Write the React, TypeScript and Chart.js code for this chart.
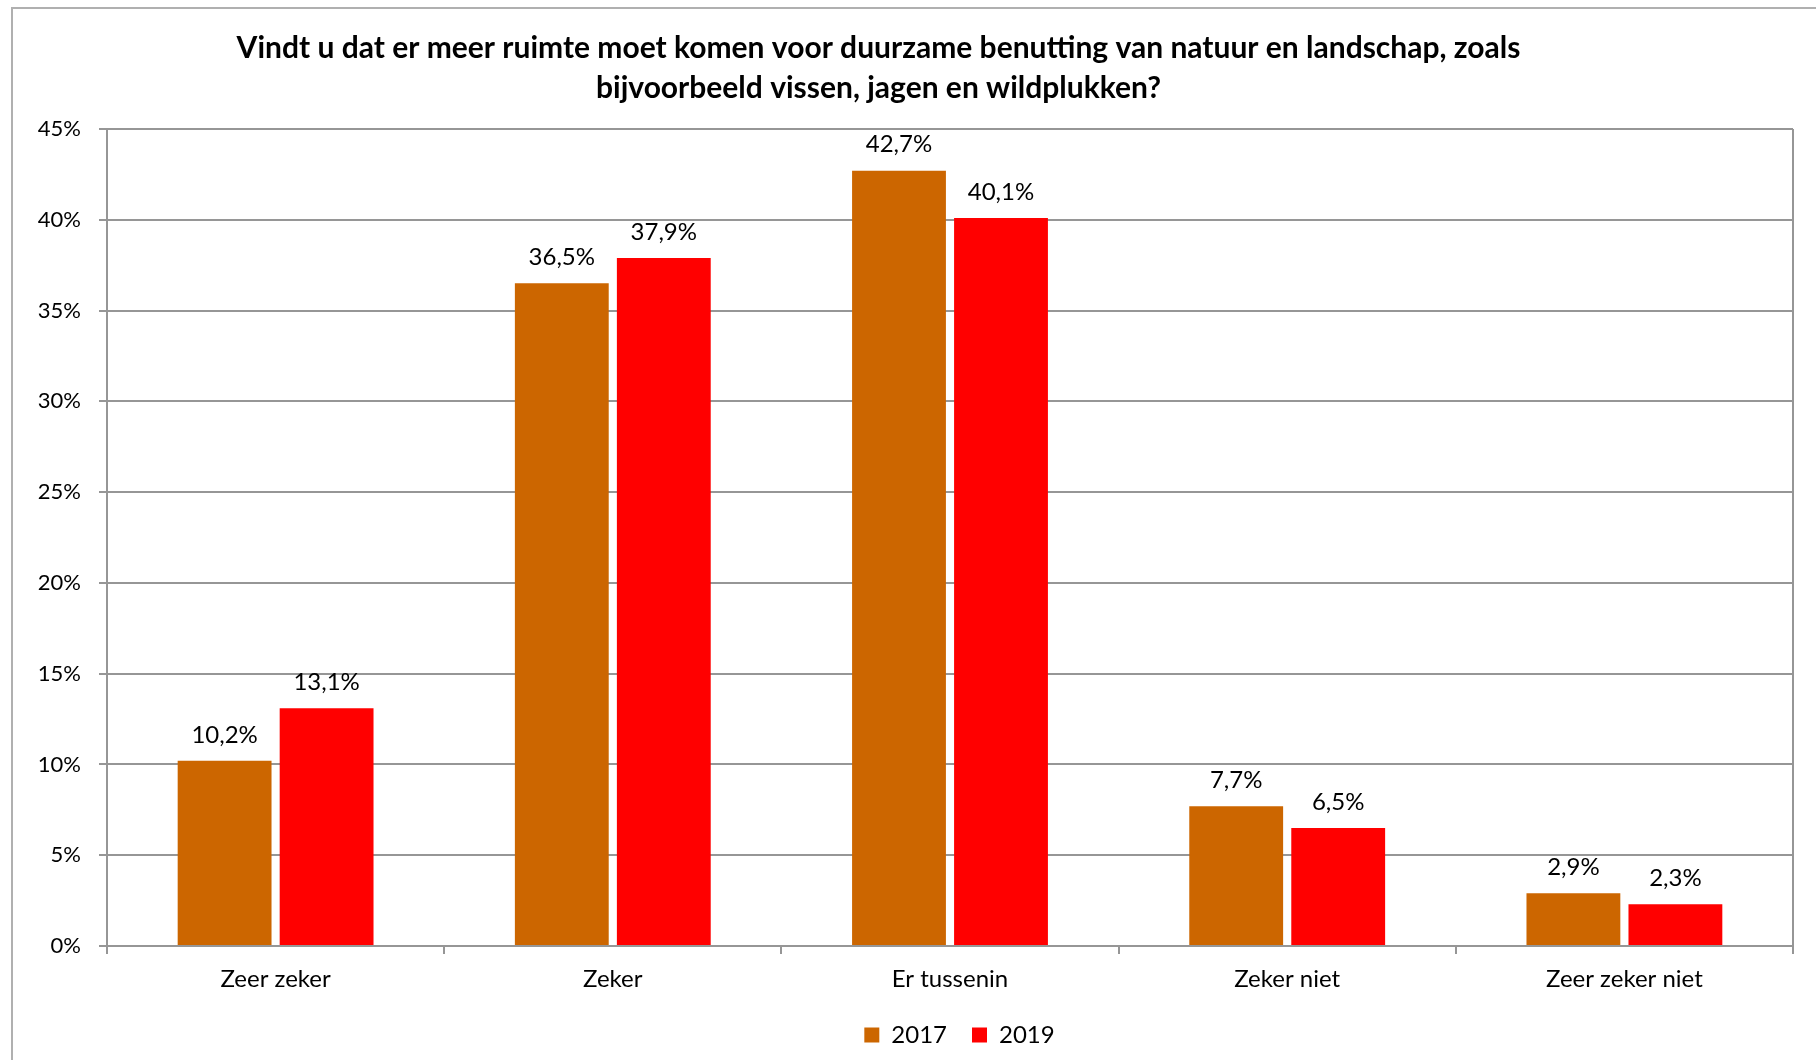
import React, { useEffect, useRef } from "react";
import { Chart, registerables } from "chart.js";

Chart.register(...registerables);

const categories = ["Zeer zeker", "Zeker", "Er tussenin", "Zeker niet", "Zeer zeker niet"];
const seriesNames = ["2017", "2019"];
const values2017 = [10.2, 36.5, 42.7, 7.7, 2.9];
const values2019 = [13.1, 37.9, 40.1, 6.5, 2.3];
const seriesColors = ["#CC6600", "#FF0000"];
const titleLines = [
  "Vindt u dat er meer ruimte moet komen voor duurzame benutting van natuur en landschap, zoals",
  "bijvoorbeeld vissen, jagen en wildplukken?",
];
const yMin = 0;
const yMax = 45;
const yStep = 5;

const FONT = "Lato, 'Open Sans', sans-serif";
const GRID = "#969696";

const fmt = (v: number) => v.toFixed(1).replace(".", ",") + "%";

const dataLabelPlugin = {
  id: "dataLabels",
  afterDatasetsDraw(chart: any) {
    const ctx = chart.ctx;
    ctx.save();
    ctx.font = `24px ${FONT}`;
    ctx.fillStyle = "#000";
    ctx.textAlign = "center";
    ctx.textBaseline = "middle";
    chart.data.datasets.forEach((ds: any, i: number) => {
      const meta = chart.getDatasetMeta(i);
      meta.data.forEach((bar: any, j: number) => {
        ctx.fillText(fmt(ds.data[j] as number), bar.x, bar.y - 26);
      });
    });
    ctx.restore();
  },
};

// shift title / legend horizontally to match the original placement
const shiftPlugin = {
  id: "shiftBlocks",
  afterLayout(chart: any) {
    if (chart.legend) {
      chart.legend.left += 63;
      chart.legend.right += 63;
    }
    if (chart.titleBlock) {
      chart.titleBlock.left -= 18;
      chart.titleBlock.right -= 18;
    }
  },
};

export default function App() {
  const ref = useRef<HTMLCanvasElement>(null);

  useEffect(() => {
    const chart = new Chart(ref.current as HTMLCanvasElement, {
      type: "bar",
      data: {
        labels: categories,
        datasets: [
          {
            label: seriesNames[0],
            data: values2017,
            backgroundColor: seriesColors[0],
            categoryPercentage: 0.605,
            barPercentage: 0.92,
          },
          {
            label: seriesNames[1],
            data: values2019,
            backgroundColor: seriesColors[1],
            categoryPercentage: 0.605,
            barPercentage: 0.92,
          },
        ],
      },
      options: {
        animation: false,
        responsive: false,
        devicePixelRatio: 1,
        layout: { padding: { left: 0, right: 23, top: 0, bottom: 3 } },
        plugins: {
          title: {
            display: true,
            text: titleLines,
            color: "#000",
            font: { family: FONT, size: 30, weight: "bold", lineHeight: 1.3333 },
            padding: { top: 28, bottom: 21 },
          },
          legend: {
            position: "bottom",
            labels: {
              boxWidth: 15,
              boxHeight: 15,
              color: "#000",
              font: { family: FONT, size: 24 },
              padding: 25,
            },
          },
          tooltip: { enabled: false },
        },
        scales: {
          x: {
            offset: true,
            grid: {
              display: true,
              drawOnChartArea: true,
              offset: true,
              color: (c: any) => (c.tick ? "rgba(0,0,0,0)" : GRID),
              tickColor: GRID,
              tickLength: 8,
              lineWidth: 2,
            },
            border: { display: true, color: GRID, width: 2 },
            ticks: { color: "#000", font: { family: FONT, size: 24 }, padding: 11 },
            afterFit: (s: any) => {
              s.height = 52;
            },
          },
          y: {
            min: yMin,
            max: yMax,
            ticks: {
              stepSize: yStep,
              callback: (v: any) => v + "%",
              color: "#000",
              font: { family: FONT, size: 22 },
              padding: 18,
            },
            grid: { color: GRID, lineWidth: 2, tickLength: 8, drawTicks: true },
            border: { display: true, color: GRID, width: 2 },
            afterFit: (s: any) => {
              s.width = 107;
            },
          },
        },
      } as any,
      plugins: [dataLabelPlugin, shiftPlugin],
    });
    return () => chart.destroy();
  }, []);

  return (
    <div
      style={{
        position: "fixed",
        left: 0,
        top: 0,
        width: 1816,
        height: 1060,
        background: "#fff",
        overflow: "hidden",
      }}
    >
      <div
        style={{
          position: "absolute",
          left: 11,
          top: 7,
          width: 2000,
          height: 2000,
          border: "2px solid #b0b0b0",
          boxSizing: "border-box",
        }}
      />
      <canvas
        ref={ref}
        width={1816}
        height={1060}
        style={{ position: "absolute", left: 0, top: 0, width: 1816, height: 1060 }}
      />
    </div>
  );
}
